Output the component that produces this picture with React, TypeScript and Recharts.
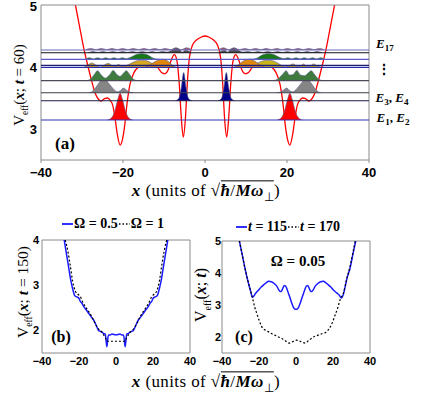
import React from "react";
import {
  ComposedChart,
  Area,
  Line,
  XAxis,
  YAxis,
  ReferenceLine,
  ReferenceArea,
} from "recharts";

type Pt = { x: number; y: number };
const pts = (rows: number[][]): Pt[] => rows.map(([x, y]) => ({ x, y }));

// ---- panel (a): effective potential at t = 60
const potential = pts([
  [-31.6, 5.0], [-30.5, 4.62], [-29.5, 4.28], [-28.5, 4.0], [-27.5, 3.74], [-26.8, 3.58],
  [-26, 3.48], [-25.3, 3.45], [-24.5, 3.49], [-23.8, 3.5], [-23.1, 3.46], [-22.5, 3.38],
  [-22, 3.2], [-21.4, 2.92], [-20.7, 2.74], [-20.1, 2.84], [-19.6, 3.05], [-19, 3.42],
  [-18.3, 3.72], [-17.4, 3.9], [-16.2, 4.0], [-14.5, 4.05], [-12.8, 4.04], [-11.5, 3.99],
  [-10.6, 3.91], [-9.8, 3.89], [-9, 3.95], [-8.3, 4.1], [-7.5, 4.2], [-6.9, 4.12],
  [-6.3, 3.75], [-5.8, 3.2], [-5.3, 2.87], [-4.8, 3.15], [-4.3, 3.75], [-3.8, 4.15],
  [-3, 4.36], [-2, 4.44], [-1, 4.48], [0, 4.5], [1, 4.48], [2, 4.44], [3, 4.36],
  [3.8, 4.15], [4.3, 3.75], [4.8, 3.15], [5.3, 2.87], [5.8, 3.2], [6.3, 3.75], [6.9, 4.12],
  [7.5, 4.2], [8.3, 4.1], [9, 3.95], [9.8, 3.89], [10.6, 3.91], [11.5, 3.99], [12.8, 4.04],
  [14.5, 4.05], [16.2, 4.0], [17.4, 3.9], [18.3, 3.72], [19, 3.42], [19.6, 3.05],
  [20.1, 2.84], [20.7, 2.74], [21.4, 2.92], [22, 3.2], [22.5, 3.38], [23.1, 3.46],
  [23.8, 3.5], [24.5, 3.49], [25.3, 3.45], [26, 3.48], [26.8, 3.58], [27.5, 3.74],
  [28.5, 4.0], [29.5, 4.28], [30.5, 4.62], [31.6, 5.0],
]);

const levels = [3.145, 3.456, 3.585, 3.779, 3.995, 4.027, 4.124, 4.23, 4.274];
const levelColors = [
  "#3434b4", "#1c1c44", "#3e3e48", "#4a4a58", "#2a2aa8", "#1e1e70", "#5a5ac8", "#101018", "#6a6ab8",
];

const redL = pts([[-23.8, 3.145], [-22.8, 3.18], [-22, 3.29], [-21.3, 3.47], [-20.7, 3.575], [-20.1, 3.47], [-19.4, 3.29], [-18.6, 3.18], [-17.6, 3.145]]);
const redR = pts([[17.6, 3.145], [18.6, 3.18], [19.4, 3.29], [20.1, 3.47], [20.7, 3.575], [21.3, 3.47], [22, 3.29], [22.8, 3.18], [23.8, 3.145]]);

const navyL = pts([[-7.2, 3.456], [-6.4, 3.49], [-5.8, 3.66], [-5.2, 3.91], [-4.6, 3.66], [-4, 3.49], [-3.2, 3.456]]);
const navyR = pts([[3.2, 3.456], [4, 3.49], [4.6, 3.66], [5.2, 3.91], [5.8, 3.66], [6.4, 3.49], [7.2, 3.456]]);

const grayL = pts([[-28.2, 3.585], [-27.2, 3.62], [-26.2, 3.71], [-25.2, 3.79], [-24.4, 3.8], [-23.4, 3.73], [-22.4, 3.65], [-21.4, 3.6], [-20.6, 3.62], [-19.9, 3.66], [-19.2, 3.63], [-18.4, 3.595], [-17.5, 3.585]]);
const grayR = pts([[17.5, 3.585], [18.4, 3.595], [19.2, 3.63], [19.9, 3.66], [20.6, 3.62], [21.4, 3.6], [22.4, 3.65], [23.4, 3.73], [24.4, 3.8], [25.2, 3.79], [26.2, 3.71], [27.2, 3.62], [28.2, 3.585]]);

const greenL = pts([[-29, 3.779], [-28, 3.8], [-27.1, 3.87], [-26.2, 3.94], [-25.3, 3.87], [-24.3, 3.82], [-23.3, 3.87], [-22.4, 3.945], [-21.5, 3.88], [-20.7, 3.85], [-19.9, 3.9], [-19.2, 3.94], [-18.3, 3.87], [-17.4, 3.8], [-16.4, 3.779]]);
const greenR = pts([[16.6, 3.779], [17.6, 3.8], [18.9, 3.88], [19.8, 3.94], [20.6, 3.87], [21.5, 3.88], [22.4, 3.945], [23.3, 3.87], [24.3, 3.86], [25.1, 3.9], [25.9, 3.94], [26.8, 3.87], [27.8, 3.8], [28.8, 3.779]]);

const yellowL = pts([[-29.5, 3.995], [-28.6, 4.03], [-27.6, 4.065], [-26.6, 4.03], [-25.6, 4.0], [-24.6, 4.03], [-23.6, 4.06], [-22.6, 4.02], [-21.9, 4.01], [-21.1, 4.04], [-20.3, 4.01], [-19.3, 4.02], [-18, 4.06], [-16.6, 4.1], [-15.4, 4.11], [-14.2, 4.1], [-13, 4.06], [-12, 4.02], [-11, 3.995]]);
const orangeL = pts([[-14.6, 3.995], [-13.3, 4.04], [-11.8, 4.1], [-10.2, 4.125], [-8.8, 4.08], [-7.8, 4.02], [-7, 3.995]]);
const orangeR = pts([[7, 3.995], [8, 4.03], [9.2, 4.09], [10.6, 4.125], [12, 4.1], [13.3, 4.04], [14.5, 3.995]]);
const yellowR = pts([[10.8, 3.995], [12.2, 4.04], [13.7, 4.09], [15.4, 4.11], [17, 4.09], [18.3, 4.04], [19.4, 4.005], [20.5, 4.02], [21.5, 4.05], [22.5, 4.01], [23.2, 4.01], [24, 4.05], [24.8, 4.01], [25.6, 4.01], [26.4, 4.05], [27.3, 4.02], [28.3, 3.995]]);

const dgreenL = pts([[-29.2, 4.124], [-28.2, 4.15], [-27.2, 4.13], [-26.2, 4.15], [-25.2, 4.13], [-24.2, 4.15], [-23.2, 4.13], [-22.2, 4.15], [-21.2, 4.13], [-20.2, 4.15], [-19.2, 4.135], [-18, 4.16], [-16.8, 4.2], [-15.5, 4.215], [-14.2, 4.2], [-13, 4.155], [-12, 4.13], [-10.8, 4.124]]);
const dgreenR = pts([[10.8, 4.124], [12, 4.13], [13, 4.155], [14.2, 4.2], [15.5, 4.215], [16.8, 4.2], [18, 4.16], [19.2, 4.135], [20.2, 4.15], [21.2, 4.13], [22.2, 4.15], [23.2, 4.13], [24.2, 4.15], [25.2, 4.13], [26.2, 4.15], [27.2, 4.13], [28.2, 4.15], [29.2, 4.124]]);

const dgrayL = pts([[-28.5, 4.23], [-27.3, 4.25], [-26.1, 4.235], [-24.9, 4.25], [-23.7, 4.235], [-22.5, 4.25], [-21.3, 4.235], [-20.1, 4.25], [-18.9, 4.235], [-17.7, 4.25], [-16.5, 4.235], [-15.3, 4.25], [-14.1, 4.235], [-12.9, 4.25], [-11.7, 4.235], [-10.5, 4.25], [-9.3, 4.24], [-8.1, 4.27], [-7, 4.3], [-6.2, 4.28], [-5.5, 4.24], [-4.8, 4.27], [-4.1, 4.26], [-3.3, 4.23]]);
const dgrayR = pts([[3.3, 4.23], [4.1, 4.26], [4.8, 4.27], [5.5, 4.24], [6.2, 4.28], [7, 4.3], [8.1, 4.27], [9.3, 4.24], [10.5, 4.25], [11.7, 4.235], [12.9, 4.25], [14.1, 4.235], [15.3, 4.25], [16.5, 4.235], [17.7, 4.25], [18.9, 4.235], [20.1, 4.25], [21.3, 4.235], [22.5, 4.25], [23.7, 4.235], [24.9, 4.25], [26.1, 4.235], [27.3, 4.25], [28.5, 4.23]]);

const mauveL = pts([[-29.2, 4.274], [-27.9, 4.3], [-26.6, 4.28], [-25.3, 4.3], [-24, 4.28], [-22.7, 4.3], [-21.4, 4.28], [-20.1, 4.3], [-18.8, 4.28], [-17.5, 4.3], [-16.2, 4.28], [-14.9, 4.3], [-13.6, 4.28], [-12.3, 4.3], [-11, 4.28], [-9.7, 4.3], [-8.4, 4.28], [-7.1, 4.31], [-5.8, 4.28], [-4.5, 4.31], [-3.2, 4.274]]);
const mauveR = pts([[3.2, 4.274], [4.5, 4.31], [5.8, 4.28], [7.1, 4.31], [8.4, 4.28], [9.7, 4.3], [11, 4.28], [12.3, 4.3], [13.6, 4.28], [14.9, 4.3], [16.2, 4.28], [17.5, 4.3], [18.8, 4.28], [20.1, 4.3], [21.4, 4.28], [22.7, 4.3], [24, 4.28], [25.3, 4.3], [26.6, 4.28], [27.9, 4.3], [29.2, 4.274]]);

const humps = [
  { id: "mauveL", data: mauveL, base: 4.274, fill: "#9a5a72" },
  { id: "mauveR", data: mauveR, base: 4.274, fill: "#9a5a72" },
  { id: "dgrayL", data: dgrayL, base: 4.23, fill: "#4a4a4a" },
  { id: "dgrayR", data: dgrayR, base: 4.23, fill: "#4a4a4a" },
  { id: "dgreenL", data: dgreenL, base: 4.124, fill: "#187818" },
  { id: "dgreenR", data: dgreenR, base: 4.124, fill: "#187818" },
  { id: "yellowL", data: yellowL, base: 3.995, fill: "#d4a822" },
  { id: "yellowR", data: yellowR, base: 3.995, fill: "#c9b41c" },
  { id: "orangeL", data: orangeL, base: 3.995, fill: "#e0880c" },
  { id: "orangeR", data: orangeR, base: 3.995, fill: "#e0880c" },
  { id: "grayL", data: grayL, base: 3.585, fill: "#858585" },
  { id: "grayR", data: grayR, base: 3.585, fill: "#858585" },
  { id: "greenL", data: greenL, base: 3.779, fill: "#3f7b3f" },
  { id: "greenR", data: greenR, base: 3.779, fill: "#3f7b3f" },
  { id: "navyL", data: navyL, base: 3.456, fill: "#00008a" },
  { id: "navyR", data: navyR, base: 3.456, fill: "#00008a" },
  { id: "redL", data: redL, base: 3.145, fill: "#ff0000" },
  { id: "redR", data: redR, base: 3.145, fill: "#ff0000" },
];

// ---- panel (b): t = 150
const bOmegaHalf = pts([
  [-28, 4.0], [-26.8, 3.7], [-25.6, 3.4], [-24.4, 3.1], [-23.3, 2.9], [-22.3, 2.77], [-21.2, 2.74],
  [-20.2, 2.72], [-19.3, 2.64], [-18.4, 2.6], [-17.5, 2.53], [-16, 2.45], [-14.8, 2.38], [-13.4, 2.3],
  [-12.1, 2.23], [-10.8, 2.12], [-9.4, 2.0], [-8.5, 1.98], [-7.6, 1.96], [-6.5, 1.93], [-5.8, 1.92],
  [-5.3, 1.75], [-4.9, 1.64], [-4.5, 1.8], [-4, 1.9], [-3.1, 1.9], [-2.2, 1.92], [-1.3, 1.91], [0, 1.9],
  [1.3, 1.91], [2.2, 1.92], [3.1, 1.9], [4, 1.9], [4.5, 1.8], [4.9, 1.64], [5.3, 1.75], [5.8, 1.92],
  [6.5, 1.93], [7.6, 1.96], [8.5, 1.98], [9.4, 2.0], [10.8, 2.12], [12.1, 2.23], [13.4, 2.3],
  [14.8, 2.38], [16, 2.45], [17.5, 2.53], [18.4, 2.6], [19.3, 2.64], [20.2, 2.72], [21.2, 2.74],
  [22.3, 2.77], [23.3, 2.9], [24.4, 3.1], [25.6, 3.4], [26.8, 3.7], [28, 4.0],
]);
const bOmegaOne = pts([
  [-27.4, 4.0], [-26, 3.75], [-24.7, 3.43], [-23.5, 3.1], [-22, 2.87], [-20.6, 2.8], [-19.3, 2.75],
  [-18, 2.63], [-16.6, 2.53], [-14.8, 2.42], [-13, 2.3], [-11.6, 2.18], [-10.3, 2.08], [-9, 2.01],
  [-7.6, 1.96], [-6.7, 1.9], [-5.8, 1.85], [-4.9, 1.76], [-3.1, 1.76], [0, 1.76], [3.1, 1.76],
  [4.9, 1.76], [5.8, 1.85], [6.7, 1.9], [7.6, 1.96], [9, 2.01], [10.3, 2.08], [11.6, 2.18], [13, 2.3],
  [14.8, 2.42], [16.6, 2.53], [18, 2.63], [19.3, 2.75], [20.6, 2.8], [22, 2.87], [23.5, 3.1],
  [24.7, 3.43], [26, 3.75], [27.4, 4.0],
]);

// ---- panel (c): Omega = 0.05
const cT115 = pts([
  [-30.6, 5.0], [-29, 4.55], [-27.4, 4.1], [-26, 3.75], [-24.7, 3.47], [-23.5, 3.24], [-22.8, 3.28],
  [-22, 3.35], [-20.2, 3.47], [-18.8, 3.56], [-17.5, 3.63], [-16, 3.7], [-14.8, 3.74], [-13, 3.72],
  [-11.6, 3.66], [-10.3, 3.58], [-9.4, 3.48], [-8.5, 3.42], [-7.8, 3.44], [-7.3, 3.5], [-6.4, 3.6],
  [-5.8, 3.6], [-4.9, 3.5], [-4, 3.35], [-3.1, 3.2], [-2.2, 3.05], [-1.3, 2.92], [-0.5, 2.87],
  [0.5, 2.87], [1.3, 2.92], [2.2, 3.05], [3.1, 3.2], [4, 3.35], [4.9, 3.5], [5.8, 3.6], [6.4, 3.6],
  [7.3, 3.5], [7.8, 3.44], [8.5, 3.42], [9.4, 3.48], [10.3, 3.58], [11.6, 3.66], [13, 3.72],
  [14.8, 3.74], [16, 3.7], [17.5, 3.63], [18.8, 3.56], [20.2, 3.47], [22, 3.38], [23.5, 3.3],
  [24.5, 3.22], [25.3, 3.28], [26.5, 3.55], [27.4, 3.8], [29.2, 4.15], [30.8, 4.6], [32.3, 5.0],
]);
const cT170 = pts([
  [-30.6, 5.0], [-29, 4.55], [-27.4, 4.1], [-26, 3.75], [-24.7, 3.47], [-23.5, 3.22], [-22.4, 2.95],
  [-21.1, 2.72], [-19.8, 2.5], [-18.8, 2.35], [-17.5, 2.25], [-16, 2.2], [-14.8, 2.16], [-13, 2.1],
  [-11.2, 2.05], [-9.4, 2.0], [-7.6, 1.95], [-5.8, 1.88], [-3.7, 1.81], [-2, 1.85], [0.4, 1.9],
  [2.5, 1.86], [4.9, 1.81], [7, 1.9], [9.4, 2.0], [11.6, 2.05], [13.9, 2.1], [16.2, 2.15],
  [18.4, 2.3], [20, 2.5], [21.1, 2.68], [22.5, 2.9], [23.8, 3.16], [25.6, 3.37], [27.4, 3.8],
  [29.2, 4.2], [31, 4.7], [32, 5.0],
]);

const xTicks = [-40, -20, 0, 20, 40];
const fmt = (v: number) => (v < 0 ? "\u2212" + Math.abs(v) : String(v));
const serif = "'Liberation Serif', 'Times New Roman', serif";
const sans = "'Liberation Sans', Arial, sans-serif";
const frame = "#8a8a8a";

const tickFont = (size: number) => ({ fontFamily: sans, fontWeight: 700, fontSize: size, fill: "#000" });

// y tick that keeps the top label inside the picture
function SafeYTick(props: any) {
  const { x, y, payload } = props;
  return (
    <text x={x} y={Math.max(y, 6)} dy="0.355em" textAnchor="end" {...tickFont(13)}>
      {payload.value}
    </text>
  );
}

function Abs({ x, y, rot, size, children }: { x: number; y: number; rot?: boolean; size: number; children: React.ReactNode }) {
  return (
    <div
      style={{
        position: "absolute",
        left: x,
        top: y,
        transform: `translate(-50%, -50%)${rot ? " rotate(-90deg)" : ""}`,
        whiteSpace: "nowrap",
        fontFamily: serif,
        fontSize: size,
        lineHeight: 1,
        color: "#000",
      }}
    >
      {children}
    </div>
  );
}

const XLabel = () => (
  <span style={{ letterSpacing: 0.4 }}>
    <b><i>x</i></b> (units of √
    <span style={{ display: "inline-block", borderTop: "1.2px solid #000", paddingTop: 1 }}>
      <b><i>ħ</i></b>/<b><i>Mω</i></b><sub style={{ fontSize: "0.7em" }}>⊥</sub>
    </span>
    )
  </span>
);

const VLabel = ({ arg }: { arg: React.ReactNode }) => (
  <span>
    V<sub style={{ fontSize: "0.62em" }}>eff</sub>({arg})
  </span>
);

function LegendKey({ dashed }: { dashed?: boolean }) {
  return (
    <svg width={11} height={8} style={{ margin: "0 1px" }}>
      <line x1={0} y1={4} x2={11} y2={4} stroke={dashed ? "#000" : "#1a1aff"} strokeWidth={dashed ? 1.4 : 1.8} strokeDasharray={dashed ? "1.5 2" : undefined} />
    </svg>
  );
}

const legendStyle = (left: number, top: number): React.CSSProperties => ({
  position: "absolute", left, top, display: "flex", alignItems: "center",
  fontFamily: serif, fontSize: 14, fontWeight: 700, whiteSpace: "nowrap", lineHeight: 1,
});

export default function App() {
  return (
    <div style={{ position: "absolute", left: 0, top: 0, width: 424, height: 394, background: "#fff", overflow: "hidden" }}>
      <div style={{ position: "absolute", left: 0, top: 0 }}>
        <ComposedChart width={424} height={200} margin={{ top: 5, right: 55, bottom: 39, left: 40 }}>
          <XAxis type="number" dataKey="x" domain={[-40, 40]} ticks={xTicks} interval={0} allowDataOverflow height={1}
            axisLine={false} tickLine={{ stroke: frame }} tickSize={3} tickMargin={5} tick={tickFont(13)} tickFormatter={fmt} />
          <YAxis type="number" dataKey="y" domain={[2.5, 5]} ticks={[3, 4, 5]} interval={0} allowDataOverflow width={1}
            axisLine={false} tickLine={false} tickSize={3} tickMargin={1} tick={<SafeYTick />} />
          <Area data={potential} dataKey="y" type="monotone" stroke="#ff0000" strokeWidth={1.3} fill="none" baseValue={2.5} isAnimationActive={false} dot={false} activeDot={false} />
          {humps.map((h) => (
            <Area key={h.id} data={h.data} dataKey="y" type="monotone" baseValue={h.base} fill={h.fill} fillOpacity={1}
              stroke="#5a5a8a" strokeWidth={0.6} isAnimationActive={false} dot={false} activeDot={false} />
          ))}
          {levels.map((lv, i) => (
            <ReferenceLine key={lv} y={lv} stroke={levelColors[i]} strokeWidth={1.2} />
          ))}
          <ReferenceArea x1={-40} x2={40} y1={2.5} y2={5} fill="none" stroke={frame} strokeWidth={1} />
        </ComposedChart>
      </div>

      <div style={{ position: "absolute", left: 0, top: 200 }}>
        <ComposedChart width={200} height={194} margin={{ top: 40, right: 10, bottom: 40, left: 41 }}>
          <XAxis type="number" dataKey="x" domain={[-40, 40]} ticks={xTicks} interval={0} allowDataOverflow height={1}
            axisLine={false} tickLine={false} tickSize={3} tickMargin={1} tick={tickFont(11)} tickFormatter={fmt} />
          <YAxis type="number" dataKey="y" domain={[1.5, 4]} ticks={[2, 3, 4]} interval={0} allowDataOverflow width={1}
            axisLine={false} tickLine={false} tickSize={3} tickMargin={0} tick={tickFont(11)} />
          <Line data={bOmegaHalf} dataKey="y" type="monotone" stroke="#1a1aff" strokeWidth={1.5} dot={false} activeDot={false} isAnimationActive={false} />
          <Line data={bOmegaOne} dataKey="y" type="monotone" stroke="#000" strokeWidth={1.2} strokeDasharray="2 2" dot={false} activeDot={false} isAnimationActive={false} />
          <ReferenceArea x1={-40} x2={40} y1={1.5} y2={4} fill="none" stroke={frame} strokeWidth={1} />
        </ComposedChart>
      </div>

      <div style={{ position: "absolute", left: 195, top: 200 }}>
        <ComposedChart width={229} height={194} margin={{ top: 41, right: 54, bottom: 40, left: 26 }}>
          <XAxis type="number" dataKey="x" domain={[-40, 40]} ticks={xTicks} interval={0} allowDataOverflow height={1}
            axisLine={false} tickLine={false} tickSize={3} tickMargin={1} tick={tickFont(11)} tickFormatter={fmt} />
          <YAxis type="number" dataKey="y" domain={[1.5, 5]} ticks={[2, 3, 4, 5]} interval={0} allowDataOverflow width={1}
            axisLine={false} tickLine={false} tickSize={1} tickMargin={0} tick={tickFont(11)} />
          <Line data={cT115} dataKey="y" type="monotone" stroke="#1a1aff" strokeWidth={1.5} dot={false} activeDot={false} isAnimationActive={false} />
          <Line data={cT170} dataKey="y" type="monotone" stroke="#000" strokeWidth={1.2} strokeDasharray="2 2" dot={false} activeDot={false} isAnimationActive={false} />
          <ReferenceArea x1={-40} x2={40} y1={1.5} y2={5} fill="none" stroke={frame} strokeWidth={1} />
        </ComposedChart>
      </div>

      {/* panel (a) texts */}
      <Abs x={21} y={85} rot size={15}>
        <VLabel arg={<><b><i>x</i></b>; <b><i>t</i></b> = 60</>} />
      </Abs>
      <Abs x={206} y={192} size={17}><XLabel /></Abs>
      <Abs x={65} y={143} size={17}><b>(a)</b></Abs>
      <Abs x={385} y={45} size={13}><b><i>E</i></b><sub style={{ fontSize: "0.7em" }}><b>17</b></sub></Abs>
      <Abs x={384} y={70} size={14}><b>⋮</b></Abs>
      <Abs x={392} y={99} size={13}><b><i>E</i></b><sub style={{ fontSize: "0.7em" }}><b>3</b></sub><b>, </b><b><i>E</i></b><sub style={{ fontSize: "0.7em" }}><b>4</b></sub></Abs>
      <Abs x={393} y={119} size={13}><b><i>E</i></b><sub style={{ fontSize: "0.7em" }}><b>1</b></sub><b>, </b><b><i>E</i></b><sub style={{ fontSize: "0.7em" }}><b>2</b></sub></Abs>

      {/* panel (b) texts */}
      <div style={legendStyle(61, 217)}>
        <LegendKey /><span>Ω = 0.5</span><LegendKey dashed /><span>Ω = 1</span>
      </div>
      <Abs x={24} y={292} rot size={15.5}>
        <VLabel arg={<><b><i>x</i></b>; <b><i>t</i></b> = 150</>} />
      </Abs>
      <Abs x={61} y={337} size={16}><b>(b)</b></Abs>

      {/* panel (c) texts */}
      <div style={legendStyle(235, 220)}>
        <LegendKey /><span><i>t</i> = 115</span><LegendKey dashed /><span><i>t</i> = 170</span>
      </div>
      <Abs x={203} y={295} rot size={16}>
        <VLabel arg={<><b><i>x</i></b>; <b><i>t</i></b></>} />
      </Abs>
      <Abs x={298} y={261} size={15}><b>Ω = 0.05</b></Abs>
      <Abs x={244} y={337} size={16}><b>(c)</b></Abs>

      <Abs x={206} y={383} size={17}><XLabel /></Abs>
    </div>
  );
}
